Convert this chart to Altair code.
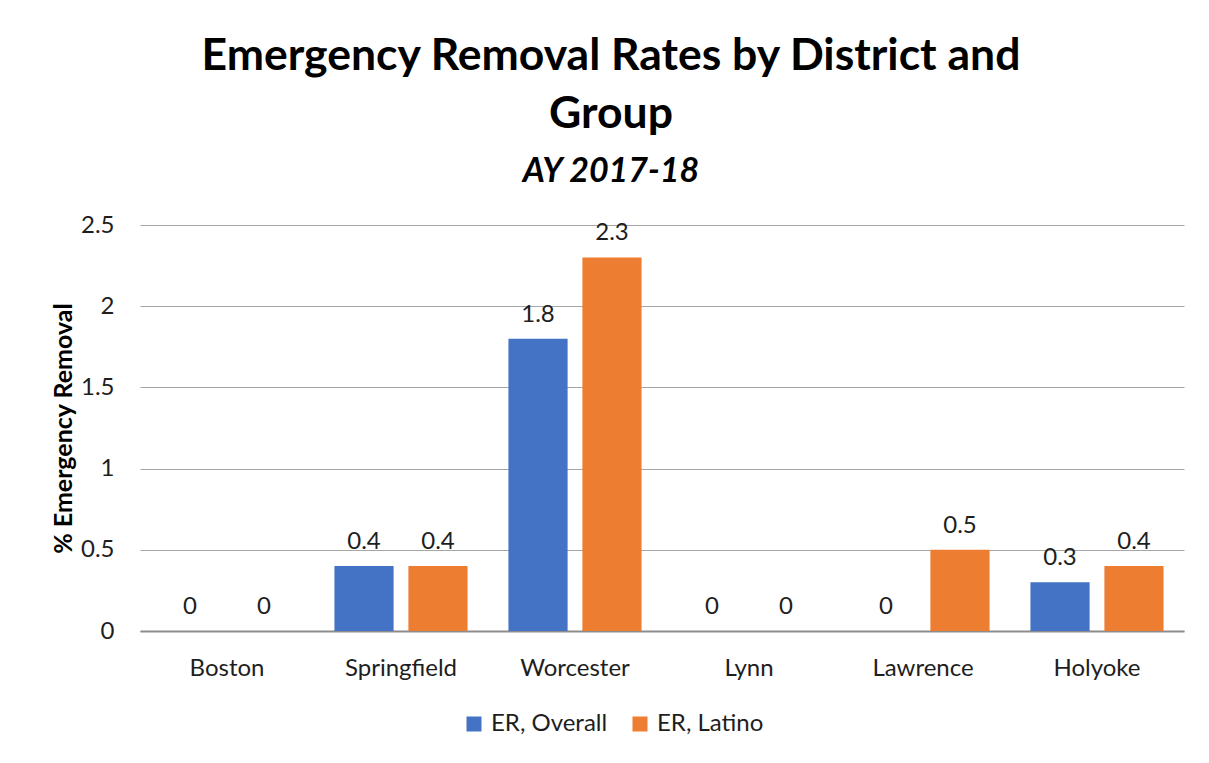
import altair as alt
import pandas as pd

districts = ["Boston", "Springfield", "Worcester", "Lynn", "Lawrence", "Holyoke"]
series = ["ER, Overall", "ER, Latino"]
er_overall = [0, 0.4, 1.8, 0, 0, 0.3]
er_latino = [0, 0.4, 2.3, 0, 0.5, 0.4]
y_ticks = [0, 0.5, 1, 1.5, 2, 2.5]
colors = ["#4472C4", "#ED7D31"]

rows = []
for d, a, b in zip(districts, er_overall, er_latino):
    rows.append({"District": d, "Series": series[0], "Value": a})
    rows.append({"District": d, "Series": series[1], "Value": b})
df = pd.DataFrame(rows)

FONT = "Lato"
TXT = "#1e1e1e"

base = alt.Chart(df).encode(
    x=alt.X(
        "District:N",
        sort=districts,
        scale=alt.Scale(paddingInner=0.235, paddingOuter=0.1175),
        axis=alt.Axis(
            title=None,
            labelAngle=0,
            labelFont=FONT,
            labelFontSize=24,
            labelColor=TXT,
            labelPadding=25,
            ticks=False,
            grid=False,
            domainColor="#8C8C8C",
            domainWidth=2,
        ),
    ),
    xOffset=alt.XOffset("Series:N", sort=series, scale=alt.Scale(paddingInner=0.2)),
    y=alt.Y(
        "Value:Q",
        scale=alt.Scale(domain=[0, 2.5], nice=False),
        axis=alt.Axis(
            values=y_ticks,
            format=".1~f",
            title="% Emergency Removal",
            titleFont=FONT,
            titleFontSize=25,
            titleFontWeight="bold",
            titleColor="#000000",
            titlePadding=4,
            labelFont=FONT,
            labelFontSize=24,
            labelColor=TXT,
            labelPadding=26,
            ticks=False,
            domain=False,
            gridColor="#A6A6A6",
            gridWidth=1,
        ),
    ),
)

bars = base.mark_bar().encode(
    color=alt.Color(
        "Series:N",
        sort=series,
        scale=alt.Scale(domain=series, range=colors),
        legend=alt.Legend(
            title=None,
            orient="none",
            direction="horizontal",
            legendX=322,
            legendY=487,
            symbolType="square",
            symbolSize=225,
            symbolStrokeWidth=0,
            labelFont=FONT,
            labelFontSize=24,
            labelColor=TXT,
            columnPadding=20,
            symbolOffset=0,
            labelOffset=5,
        ),
    )
)

labels = base.mark_text(
    baseline="bottom", dy=-12, font=FONT, fontSize=24, color=TXT
).encode(text=alt.Text("Value:Q", format=".1~f"))

chart = (
    alt.layer(bars, labels)
    .properties(
        width=1044,
        height=406,
        autosize=alt.AutoSizeParams(type="none"),
        padding={"left": 132, "top": 217, "right": 10, "bottom": 128},
        view=alt.ViewBackground(stroke="transparent", strokeWidth=0),
        title=alt.TitleParams(
            text=["Emergency Removal Rates by District and", "Group"],
            subtitle="AY 2017-18",
            font=FONT,
            fontSize=44.5,
            fontWeight="bold",
            color="#000000",
            lineHeight=58,
            subtitleFont=FONT,
            subtitleFontSize=34,
            subtitleFontWeight="bold",
            subtitleFontStyle="italic",
            subtitleColor="#000000",
            subtitlePadding=18,
            anchor="middle",
            frame="group",
            dx=-51,
            offset=23,
        ),
    )
    .configure_view(strokeWidth=0, stroke="transparent")
    .configure(background="white")
)

chart.save("out.html", embed_options={"renderer": "svg", "actions": False})
